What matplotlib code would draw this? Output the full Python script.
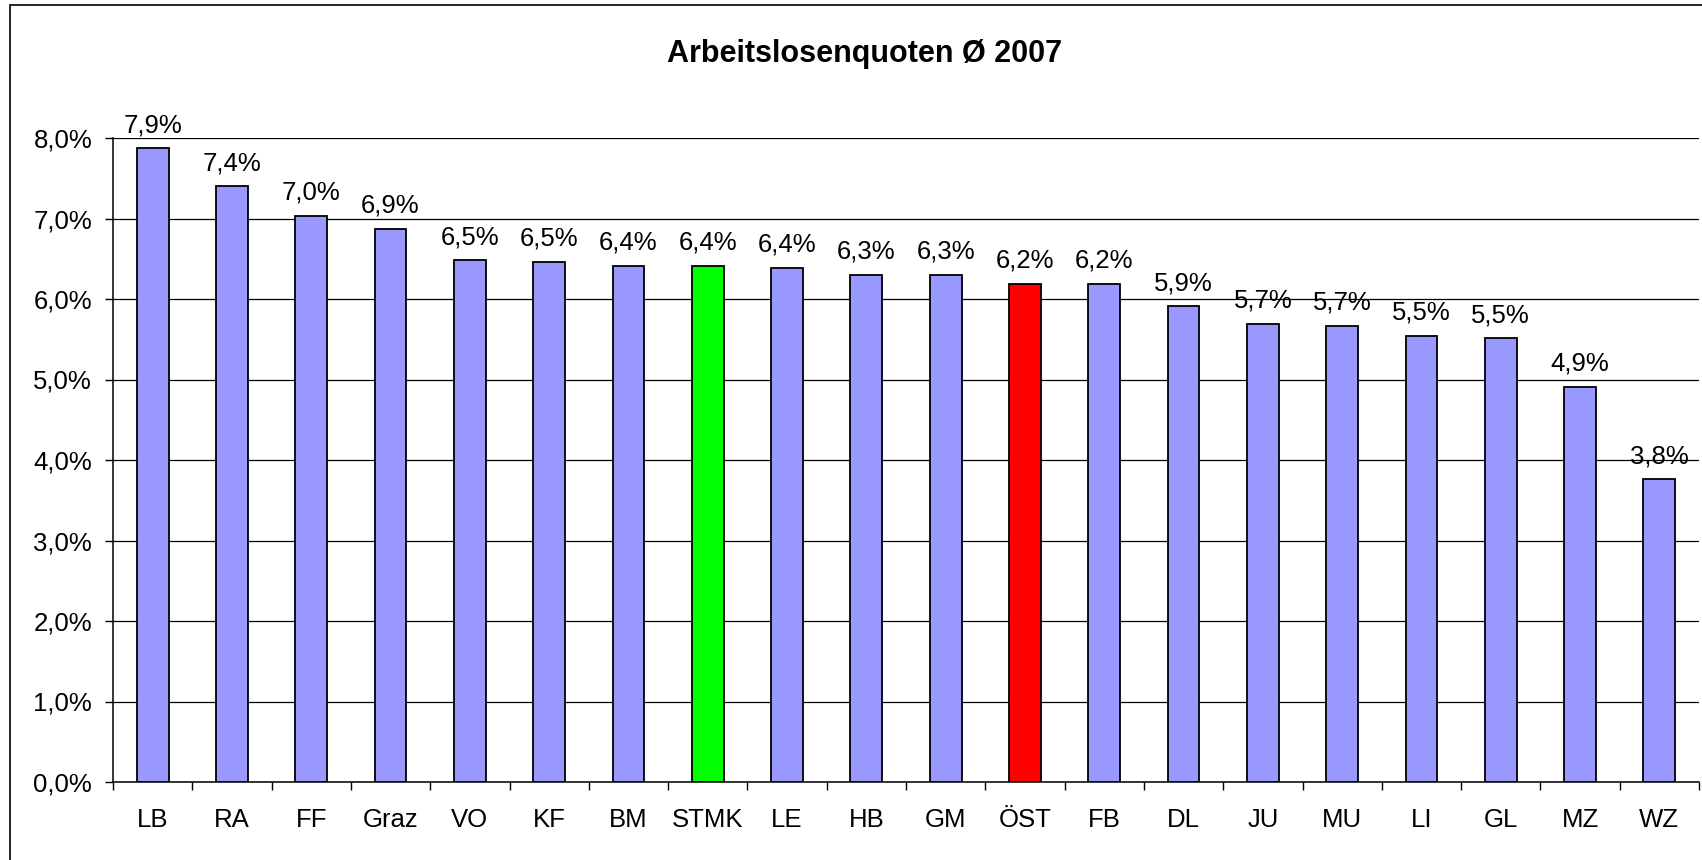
import matplotlib
matplotlib.use("Agg")
import matplotlib.pyplot as plt
from matplotlib.patches import Rectangle
from matplotlib.ticker import FixedLocator, FuncFormatter

# Arbeitslosenquoten 2007 (in %)
regions = ["LB", "RA", "FF", "Graz", "VO", "KF", "BM", "STMK", "LE", "HB",
           "GM", "ÖST", "FB", "DL", "JU", "MU", "LI", "GL", "MZ", "WZ"]
rates = [7.87, 7.40, 7.03, 6.87, 6.48, 6.46, 6.41, 6.41, 6.39, 6.30,
         6.30, 6.19, 6.19, 5.91, 5.69, 5.67, 5.54, 5.51, 4.91, 3.76]
highlight = {"STMK": "#00FF00", "ÖST": "#FF0000"}
base_color = "#9999FF"

plt.rcParams["font.family"] = ["Liberation Sans", "DejaVu Sans"]

W, H = 1702, 860
fig = plt.figure(figsize=(W / 100, H / 100), dpi=100)
fig.patch.set_facecolor("white")

# outer chart frame (cropped on the right and bottom)
fig.patches.append(Rectangle((10 / W, -0.05), 1.1, 1 - 5 / H + 0.05,
                             transform=fig.transFigure, fill=False,
                             edgecolor="black", linewidth=1.2))

ax = fig.add_axes([113 / W, 1 - 782 / H, (1699 - 113) / W, (782 - 138) / H])

x = list(range(len(regions)))
colors = [highlight.get(r, base_color) for r in regions]
bars = ax.bar(x, rates, width=0.4, color=colors, edgecolor="black",
              linewidth=1.3, zorder=3)

for b, v in zip(bars, rates):
    ax.annotate(f"{v:.1f}".replace(".", ",") + "%",
                (b.get_x() + b.get_width() / 2, v),
                xytext=(0, 8), textcoords="offset points",
                ha="center", va="bottom", fontsize=18.5, zorder=4)

ax.set_xlim(-0.5, len(regions) - 0.5)
ax.set_ylim(0, 8)

ax.set_yticks(range(0, 9))
ax.yaxis.set_major_formatter(FuncFormatter(lambda v, p: f"{v:.1f}".replace(".", ",") + "%"))
ax.yaxis.grid(True, color="black", linewidth=0.9, zorder=0)
ax.set_axisbelow(True)

ax.set_xticks(x)
ax.set_xticklabels(regions)
ax.xaxis.set_minor_locator(FixedLocator([i - 0.5 for i in range(len(regions) + 1)]))
ax.tick_params(axis="x", which="major", length=0, pad=19, labelsize=18.5)
ax.tick_params(axis="x", which="minor", length=6, width=1, direction="out")
ax.tick_params(axis="y", length=6, width=1, direction="out", pad=9, labelsize=18.5)

for s in ["top", "right"]:
    ax.spines[s].set_visible(False)
for s in ["left", "bottom"]:
    ax.spines[s].set_linewidth(1.1)
    ax.spines[s].set_color("black")

fig.text(865 / W, 1 - 62 / H, "Arbeitslosenquoten Ø 2007", ha="center",
         va="baseline", fontsize=22, fontweight="bold")

fig.savefig("out.png", dpi=100)
